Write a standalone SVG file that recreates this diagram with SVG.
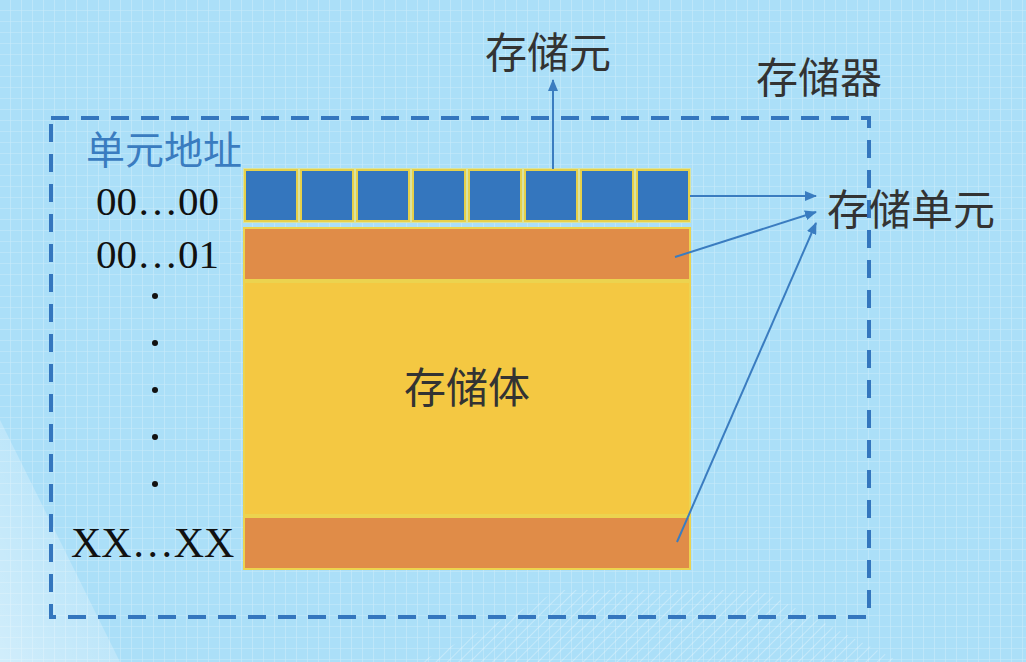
<svg xmlns="http://www.w3.org/2000/svg" width="1026" height="662" viewBox="0 0 1026 662">
<defs>
<pattern id="grid" width="11" height="11" patternUnits="userSpaceOnUse">
<path d="M11 0V11M0 11H11" fill="none" stroke="#ffffff" stroke-opacity="0.35" stroke-width="1.2"/>
</pattern>
<pattern id="hatch" width="8" height="8" patternUnits="userSpaceOnUse" patternTransform="rotate(45)">
<line x1="0" y1="0" x2="0" y2="8" stroke="#ffffff" stroke-opacity="0.3" stroke-width="2"/>
</pattern>
<linearGradient id="corner" x1="0" y1="1" x2="1" y2="0">
<stop offset="0" stop-color="#ffffff" stop-opacity="0.45"/>
<stop offset="1" stop-color="#ffffff" stop-opacity="0"/>
</linearGradient>
<marker id="ah" markerWidth="12" markerHeight="10" refX="11" refY="5" orient="auto" markerUnits="userSpaceOnUse">
<path d="M0,0 L12,5 L0,10 Z" fill="#3a7cc0"/>
</marker>
</defs>
<style>
.cjk{font-family:"Noto Sans CJK SC","Noto Sans",sans-serif;font-size:42px;fill:#333333}
.addr{font-family:"Liberation Serif","Times New Roman",serif;font-size:41px;fill:#111}
.blue{fill:#3a7cc0}
.cell{fill:#3476be;stroke:#e6d04a;stroke-width:2}
.row{fill:#e08c48;stroke:#ecd34f;stroke-width:2}
.conn{stroke:#3a7cc0;stroke-width:2;fill:none}
</style>
<rect width="1026" height="662" fill="#abdff8"/>
<rect width="1026" height="662" fill="url(#grid)"/>
<path d="M0,420 L0,662 L120,662 Z" fill="url(#corner)"/>
<path d="M420,662 L560,590 L760,590 L900,662 Z" fill="url(#hatch)"/>

<g id="memory-box">
<rect x="51" y="118" width="818" height="499" fill="none" stroke="#3476be" stroke-width="4" stroke-dasharray="18,12"/>
<text class="cjk" x="756" y="93">存储器</text>
</g>

<g id="address-labels">
<text class="cjk blue" x="86" y="164" style="font-size:39px">单元地址</text>
<text class="addr" x="96" y="215">00…00</text>
<text class="addr" x="96" y="268">00…01</text>
<circle cx="155" cy="296" r="3" fill="#111"/>
<circle cx="155" cy="343" r="3" fill="#111"/>
<circle cx="155" cy="390" r="3" fill="#111"/>
<circle cx="155" cy="437" r="3" fill="#111"/>
<circle cx="155" cy="484" r="3" fill="#111"/>
<text class="addr" x="71" y="557" style="font-size:42px">XX…XX</text>
</g>

<g id="storage-body">
<rect x="244" y="282" width="446" height="233" fill="#f4c842" stroke="#ecd34f" stroke-width="2"/>
<text class="cjk" x="467" y="403" text-anchor="middle">存储体</text>
</g>

<g id="unit-row-0">
<rect x="243" y="168" width="448" height="55" fill="#d9e3a2"/>
<rect class="cell" x="245" y="170" width="52" height="51"/>
<rect class="cell" x="301" y="170" width="52" height="51"/>
<rect class="cell" x="357" y="170" width="52" height="51"/>
<rect class="cell" x="413" y="170" width="52" height="51"/>
<rect class="cell" x="469" y="170" width="52" height="51"/>
<rect class="cell" x="525" y="170" width="52" height="51"/>
<rect class="cell" x="581" y="170" width="52" height="51"/>
<rect class="cell" x="637" y="170" width="52" height="51"/>
</g>

<g id="unit-row-1">
<rect class="row" x="244" y="228" width="446" height="52"/>
</g>

<g id="unit-row-last">
<rect class="row" x="244" y="517" width="446" height="52"/>
</g>

<g id="label-cell">
<text class="cjk" x="485" y="68">存储元</text>
</g>

<g id="label-unit">
<text class="cjk" x="827" y="225">存储单元</text>
</g>

<g id="connectors">
<line class="conn" x1="553" y1="169" x2="553" y2="80" marker-end="url(#ah)"/>
<line class="conn" x1="690" y1="196" x2="816" y2="196" marker-end="url(#ah)"/>
<line class="conn" x1="675" y1="257" x2="816" y2="212" marker-end="url(#ah)"/>
<line class="conn" x1="677" y1="542" x2="816" y2="223" marker-end="url(#ah)"/>
</g>
</svg>
